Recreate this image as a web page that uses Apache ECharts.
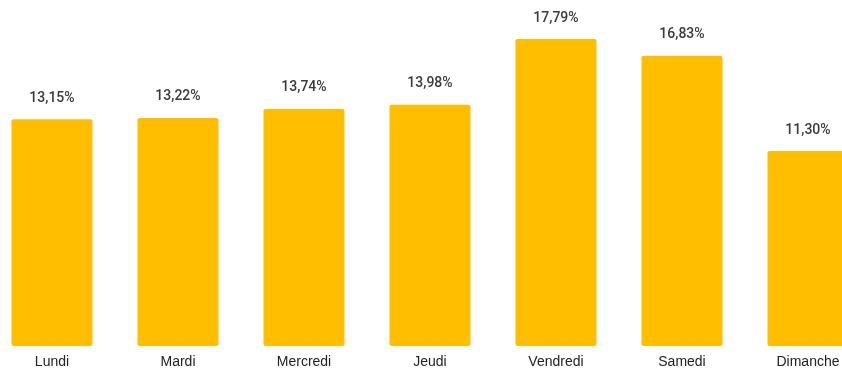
<!DOCTYPE html>
<html>
<head>
<meta charset="utf-8">
<script src="https://cdn.jsdelivr.net/npm/echarts@6/dist/echarts.min.js"></script>
<style>
  html, body { margin: 0; padding: 0; background: #fff; overflow: hidden; width: 842px; height: 369px; }
  #chart { position: absolute; left: -11.5px; top: 0; width: 881.5px; height: 369px; }
</style>
</head>
<body>
<div id="chart"></div>
<script>
// Share of activity by day of the week (%)
const days = ['Lundi', 'Mardi', 'Mercredi', 'Jeudi', 'Vendredi', 'Samedi', 'Dimanche'];
const shares = [13.15, 13.22, 13.74, 13.98, 17.79, 16.83, 11.30];

const fmt = v => v.toFixed(2).replace('.', ',') + '%';

const chart = echarts.init(document.getElementById('chart'));
chart.setOption({
  animation: false,
  grid: { left: 0, right: 0, top: 1, bottom: 22, containLabel: false },
  xAxis: {
    type: 'category',
    data: days,
    axisLine: { show: false },
    axisTick: { show: false },
    axisLabel: { color: '#222', fontSize: 14, fontFamily: 'Liberation Sans, Arial, sans-serif', margin: 9 }
  },
  yAxis: {
    type: 'value',
    min: 0,
    max: 20,
    show: false,
    splitLine: { show: false }
  },
  series: [{
    type: 'bar',
    data: shares,
    barWidth: 81,
    itemStyle: { color: '#FFBE00', borderRadius: 2 },
    label: {
      show: true,
      position: 'top',
      distance: 14,
      color: '#3a3a3a',
      fontSize: 14,
      fontWeight: 500,
      fontFamily: 'Roboto, sans-serif',
      formatter: p => fmt(p.value)
    }
  }]
});
</script>
</body>
</html>
